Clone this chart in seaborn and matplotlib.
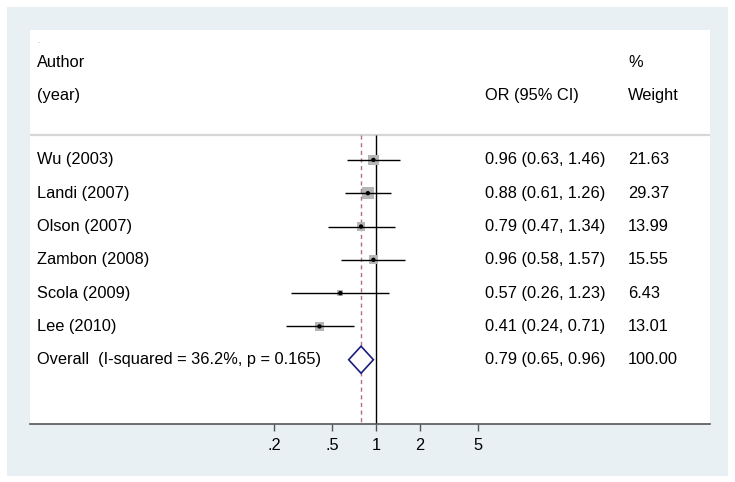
import numpy as np
import pandas as pd
import matplotlib
matplotlib.use("Agg")
import matplotlib.pyplot as plt
import seaborn as sns
from matplotlib.patches import Rectangle

studies = ["Wu (2003)", "Landi (2007)", "Olson (2007)", "Zambon (2008)", "Scola (2009)", "Lee (2010)"]
or_est = [0.96, 0.88, 0.79, 0.96, 0.57, 0.41]
ci_lo = [0.63, 0.61, 0.47, 0.58, 0.26, 0.24]
ci_hi = [1.46, 1.26, 1.34, 1.57, 1.23, 0.71]
weights = [21.63, 29.37, 13.99, 15.55, 6.43, 13.01]
overall_label = "Overall  (I-squared = 36.2%, p = 0.165)"
overall_est, overall_lo, overall_hi, overall_w = 0.79, 0.65, 0.96, 100.00
tick_vals = [0.2, 0.5, 1, 2, 5]
tick_labels = [".2", ".5", "1", "2", "5"]

df = pd.DataFrame({"study": studies, "est": or_est, "lo": ci_lo, "hi": ci_hi,
                   "w": weights, "row": np.arange(len(studies))})

sns.set_theme(style="white")
plt.rcParams["font.family"] = ["Liberation Sans", "DejaVu Sans"]
plt.rcParams["text.color"] = "black"
plt.rcParams["xtick.color"] = "black"
FS = 11.8

W, H = 735, 482
fig = plt.figure(figsize=(W / 100, H / 100), dpi=100)
fig.patch.set_facecolor("white")
fig.patches.append(Rectangle((7 / W, 1 - 476 / H), (728 - 7) / W, (476 - 7) / H,
                             transform=fig.transFigure, facecolor="#e9f0f3",
                             edgecolor="none", zorder=-5))

ax = fig.add_axes([30 / W, 1 - 424 / H, (710 - 30) / W, (424 - 30) / H])
ax.set_zorder(1)
ax.set_facecolor("white")
ax.set_xscale("log")
ax.set_xlim(10 ** -2.37, 10 ** 2.288)
ax.set_ylim(7.93, -3.9)

n = len(studies)
ov_row = n
sep = -0.76

# reference lines
ax.vlines(1, sep, 7.93, color="black", lw=1.0, zorder=2)
ax.vlines(overall_est, sep, 7.93, color="#b5707a", lw=1.0, ls=(0, (3, 2.5)), zorder=2)
ax.axhline(sep, color="#d6d6d6", lw=1.6, zorder=1)

# CIs
ax.hlines(df["row"], df["lo"], df["hi"], color="black", lw=1.0, zorder=3)
# weight squares
ax.scatter(df["est"], df["row"], s=np.array(df["w"]) * 2.7, marker="s",
           color="#b5b5b5", edgecolor="none", zorder=2.5)
sns.scatterplot(data=df, x="est", y="row", ax=ax, color="black", s=10,
                edgecolor="none", zorder=4, legend=False)

# diamond
dh = 0.405
ax.fill([overall_lo, overall_est, overall_hi, overall_est],
        [ov_row, ov_row - dh, ov_row, ov_row + dh],
        facecolor="white", edgecolor="#1c1c7a", lw=1.2, zorder=5)

# text columns
x_lab = 10 ** ((37 - 376) / 146)
x_or = 10 ** ((485 - 376) / 146)
x_w = 10 ** ((628 - 376) / 146)
ax.text(x_lab, -3.55, ".", fontsize=5, va="center", ha="left", color="#777777")
ax.text(x_lab, -2.92, "Author", fontsize=FS, va="center", ha="left")
ax.text(x_lab, -1.92, "(year)", fontsize=FS, va="center", ha="left")
ax.text(x_or, -1.92, "OR (95% CI)", fontsize=FS, va="center", ha="left")
ax.text(x_w, -2.92, "%", fontsize=FS, va="center", ha="left")
ax.text(x_w, -1.92, "Weight", fontsize=FS, va="center", ha="left")
for i in range(n):
    ax.text(x_lab, i, studies[i], fontsize=FS, va="center", ha="left")
    ax.text(x_or, i, f"{or_est[i]:.2f} ({ci_lo[i]:.2f}, {ci_hi[i]:.2f})",
            fontsize=FS, va="center", ha="left")
    ax.text(x_w, i, f"{weights[i]:.2f}", fontsize=FS, va="center", ha="left")
ax.text(x_lab, ov_row, overall_label, fontsize=FS, va="center", ha="left")
ax.text(x_or, ov_row, f"{overall_est:.2f} ({overall_lo:.2f}, {overall_hi:.2f})",
        fontsize=FS, va="center", ha="left")
ax.text(x_w, ov_row, f"{overall_w:.2f}", fontsize=FS, va="center", ha="left")

# axes styling
for s in ["top", "left", "right"]:
    ax.spines[s].set_visible(False)
ax.spines["bottom"].set_color("#555555")
ax.spines["bottom"].set_linewidth(1.2)
ax.set_xticks(tick_vals)
ax.set_xticklabels(tick_labels)
ax.xaxis.set_minor_locator(matplotlib.ticker.NullLocator())
ax.tick_params(axis="x", which="major", bottom=True, length=5, width=1,
               color="#555555", labelsize=FS, labelcolor="black", pad=5)
ax.set_yticks([])
ax.set_xlabel("")
ax.set_ylabel("")

fig.savefig("out.png", dpi=100)
